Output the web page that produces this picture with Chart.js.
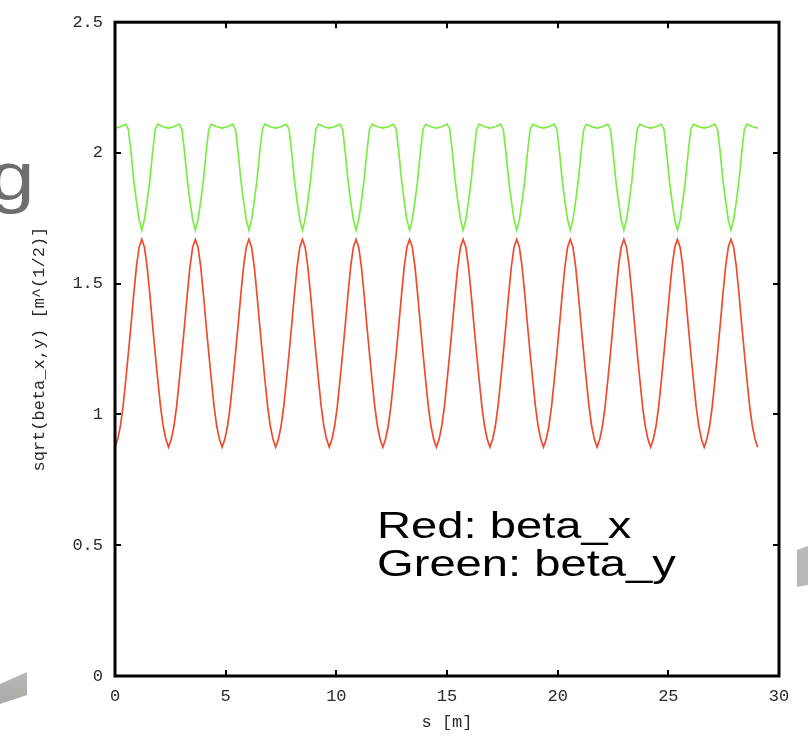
<!DOCTYPE html>
<html>
<head>
<meta charset="utf-8">
<script src="https://cdn.jsdelivr.net/npm/chart.js@4.4.1/dist/chart.umd.min.js"></script>
<style>
  html, body { margin: 0; padding: 0; background: #ffffff; }
  #wrap { width: 808px; height: 740px; }
</style>
</head>
<body>
<div id="wrap"><canvas id="c" width="808" height="740"></canvas></div>
<script>
// ---- data ----
const sPositions = [
  0,0.121,0.242,0.363,0.484,0.605,0.726,0.847,0.968,1.089,1.21,1.331,1.452,1.573,1.694,1.815,1.936,2.057,2.178,2.299,
  2.42,2.541,2.662,2.783,2.904,3.025,3.146,3.267,3.388,3.509,3.63,3.751,3.872,3.993,4.114,4.235,4.356,4.477,4.598,4.719,
  4.84,4.961,5.082,5.203,5.324,5.445,5.566,5.687,5.808,5.929,6.05,6.171,6.292,6.413,6.534,6.655,6.776,6.897,7.018,7.139,
  7.26,7.381,7.502,7.623,7.744,7.865,7.986,8.107,8.228,8.349,8.47,8.591,8.712,8.833,8.954,9.075,9.196,9.317,9.438,9.559,
  9.68,9.801,9.922,10.043,10.164,10.285,10.406,10.527,10.648,10.769,10.89,11.011,11.132,11.253,11.374,11.495,11.616,11.737,11.858,11.979,
  12.1,12.221,12.342,12.463,12.584,12.705,12.826,12.947,13.068,13.189,13.31,13.431,13.552,13.673,13.794,13.915,14.036,14.157,14.278,14.399,
  14.52,14.641,14.762,14.883,15.004,15.125,15.246,15.367,15.488,15.609,15.73,15.851,15.972,16.093,16.214,16.335,16.456,16.577,16.698,16.819,
  16.94,17.061,17.182,17.303,17.424,17.545,17.666,17.787,17.908,18.029,18.15,18.271,18.392,18.513,18.634,18.755,18.876,18.997,19.118,19.239,
  19.36,19.481,19.602,19.723,19.844,19.965,20.086,20.207,20.328,20.449,20.57,20.691,20.812,20.933,21.054,21.175,21.296,21.417,21.538,21.659,
  21.78,21.901,22.022,22.143,22.264,22.385,22.506,22.627,22.748,22.869,22.99,23.111,23.232,23.353,23.474,23.595,23.716,23.837,23.958,24.079,
  24.2,24.321,24.442,24.563,24.684,24.805,24.926,25.047,25.168,25.289,25.41,25.531,25.652,25.773,25.894,26.015,26.136,26.257,26.378,26.499,
  26.62,26.741,26.862,26.983,27.104,27.225,27.346,27.467,27.588,27.709,27.83,27.951,28.072,28.193,28.314,28.435,28.556,28.677,28.798,28.919,
  29.04
];
const sqrtBetaX = [
  0.875,0.905,0.955,1.03,1.13,1.235,1.345,1.46,1.565,1.64,1.67,1.64,1.565,1.46,1.345,1.235,1.13,1.03,0.955,0.905,
  0.875,0.905,0.955,1.03,1.13,1.235,1.345,1.46,1.565,1.64,1.67,1.64,1.565,1.46,1.345,1.235,1.13,1.03,0.955,0.905,
  0.875,0.905,0.955,1.03,1.13,1.235,1.345,1.46,1.565,1.64,1.67,1.64,1.565,1.46,1.345,1.235,1.13,1.03,0.955,0.905,
  0.875,0.905,0.955,1.03,1.13,1.235,1.345,1.46,1.565,1.64,1.67,1.64,1.565,1.46,1.345,1.235,1.13,1.03,0.955,0.905,
  0.875,0.905,0.955,1.03,1.13,1.235,1.345,1.46,1.565,1.64,1.67,1.64,1.565,1.46,1.345,1.235,1.13,1.03,0.955,0.905,
  0.875,0.905,0.955,1.03,1.13,1.235,1.345,1.46,1.565,1.64,1.67,1.64,1.565,1.46,1.345,1.235,1.13,1.03,0.955,0.905,
  0.875,0.905,0.955,1.03,1.13,1.235,1.345,1.46,1.565,1.64,1.67,1.64,1.565,1.46,1.345,1.235,1.13,1.03,0.955,0.905,
  0.875,0.905,0.955,1.03,1.13,1.235,1.345,1.46,1.565,1.64,1.67,1.64,1.565,1.46,1.345,1.235,1.13,1.03,0.955,0.905,
  0.875,0.905,0.955,1.03,1.13,1.235,1.345,1.46,1.565,1.64,1.67,1.64,1.565,1.46,1.345,1.235,1.13,1.03,0.955,0.905,
  0.875,0.905,0.955,1.03,1.13,1.235,1.345,1.46,1.565,1.64,1.67,1.64,1.565,1.46,1.345,1.235,1.13,1.03,0.955,0.905,
  0.875,0.905,0.955,1.03,1.13,1.235,1.345,1.46,1.565,1.64,1.67,1.64,1.565,1.46,1.345,1.235,1.13,1.03,0.955,0.905,
  0.875,0.905,0.955,1.03,1.13,1.235,1.345,1.46,1.565,1.64,1.67,1.64,1.565,1.46,1.345,1.235,1.13,1.03,0.955,0.905,
  0.875
];
const sqrtBetaY = [
  2.095,2.098,2.1,2.105,2.11,2.09,2.0,1.895,1.815,1.745,1.705,1.745,1.815,1.895,2.0,2.09,2.11,2.105,2.1,2.098,
  2.095,2.098,2.1,2.105,2.11,2.09,2.0,1.895,1.815,1.745,1.705,1.745,1.815,1.895,2.0,2.09,2.11,2.105,2.1,2.098,
  2.095,2.098,2.1,2.105,2.11,2.09,2.0,1.895,1.815,1.745,1.705,1.745,1.815,1.895,2.0,2.09,2.11,2.105,2.1,2.098,
  2.095,2.098,2.1,2.105,2.11,2.09,2.0,1.895,1.815,1.745,1.705,1.745,1.815,1.895,2.0,2.09,2.11,2.105,2.1,2.098,
  2.095,2.098,2.1,2.105,2.11,2.09,2.0,1.895,1.815,1.745,1.705,1.745,1.815,1.895,2.0,2.09,2.11,2.105,2.1,2.098,
  2.095,2.098,2.1,2.105,2.11,2.09,2.0,1.895,1.815,1.745,1.705,1.745,1.815,1.895,2.0,2.09,2.11,2.105,2.1,2.098,
  2.095,2.098,2.1,2.105,2.11,2.09,2.0,1.895,1.815,1.745,1.705,1.745,1.815,1.895,2.0,2.09,2.11,2.105,2.1,2.098,
  2.095,2.098,2.1,2.105,2.11,2.09,2.0,1.895,1.815,1.745,1.705,1.745,1.815,1.895,2.0,2.09,2.11,2.105,2.1,2.098,
  2.095,2.098,2.1,2.105,2.11,2.09,2.0,1.895,1.815,1.745,1.705,1.745,1.815,1.895,2.0,2.09,2.11,2.105,2.1,2.098,
  2.095,2.098,2.1,2.105,2.11,2.09,2.0,1.895,1.815,1.745,1.705,1.745,1.815,1.895,2.0,2.09,2.11,2.105,2.1,2.098,
  2.095,2.098,2.1,2.105,2.11,2.09,2.0,1.895,1.815,1.745,1.705,1.745,1.815,1.895,2.0,2.09,2.11,2.105,2.1,2.098,
  2.095,2.098,2.1,2.105,2.11,2.09,2.0,1.895,1.815,1.745,1.705,1.745,1.815,1.895,2.0,2.09,2.11,2.105,2.1,2.098,
  2.095
];
const xAxisTitle = 's [m]';
const yAxisTitle = 'sqrt(beta_x,y) [m^(1/2)]';
const noteLines = ['Red: beta_x', 'Green: beta_y'];
const xRange = [0, 30];
const yRange = [0, 2.5];
const xStep = 5;
const yStep = 0.5;

// ---- styling ----
const MONO = "'Liberation Mono', 'DejaVu Sans Mono', monospace";
const SANS = "'Liberation Sans', Arial, sans-serif";
const fmt = v => String(parseFloat(Number(v).toFixed(2)));

const framePlugin = {
  id: 'gnuplotFrame',
  afterDatasetsDraw(chart) {
    const { ctx, chartArea: a, scales } = chart;
    ctx.save();
    ctx.strokeStyle = '#000';
    ctx.lineCap = 'butt';
    ctx.lineWidth = 2;
    const tl = 6;
    scales.y.ticks.forEach(t => {
      const y = Math.round(scales.y.getPixelForValue(t.value));
      ctx.beginPath();
      ctx.moveTo(a.left, y); ctx.lineTo(a.left + tl, y);
      ctx.moveTo(a.right, y); ctx.lineTo(a.right - tl, y);
      ctx.stroke();
    });
    scales.x.ticks.forEach(t => {
      const x = Math.round(scales.x.getPixelForValue(t.value));
      ctx.beginPath();
      ctx.moveTo(x, a.bottom); ctx.lineTo(x, a.bottom - tl);
      ctx.moveTo(x, a.top); ctx.lineTo(x, a.top + tl);
      ctx.stroke();
    });
    ctx.lineWidth = 3;
    ctx.strokeRect(a.left, a.top, a.right - a.left, a.bottom - a.top);
    ctx.restore();
  }
};

const slidePlugin = {
  id: 'slideDecor',
  beforeDraw(chart) {
    const ctx = chart.ctx;
    ctx.save();
    ctx.fillStyle = '#fff';
    ctx.fillRect(0, 0, chart.width, chart.height);
    ctx.fillStyle = '#6e6e6e';
    ctx.font = '68px ' + SANS;
    ctx.textBaseline = 'alphabetic';
    const m = ctx.measureText('g');
    const sx = 1.2;
    ctx.translate(30 - m.actualBoundingBoxRight * sx, 163 + m.actualBoundingBoxAscent);
    ctx.scale(sx, 1);
    ctx.fillText('g', 0, 0);
    ctx.restore();
    ctx.save();
    const g1 = ctx.createLinearGradient(0, 664, 0, 706);
    g1.addColorStop(0, '#e4e5e3');
    g1.addColorStop(0.25, '#b6b8b4');
    g1.addColorStop(1, '#a7a9a5');
    ctx.fillStyle = g1;
    ctx.beginPath();
    ctx.moveTo(0, 684); ctx.lineTo(27, 672); ctx.lineTo(27, 695); ctx.lineTo(0, 704);
    ctx.closePath(); ctx.fill();
    ctx.fillStyle = '#b9b9b7';
    ctx.beginPath();
    ctx.moveTo(797, 550); ctx.lineTo(808, 546); ctx.lineTo(808, 585); ctx.lineTo(797, 587);
    ctx.closePath(); ctx.fill();
    ctx.restore();
  },
  afterDraw(chart) {
    const ctx = chart.ctx;
    ctx.save();
    ctx.fillStyle = '#000';
    ctx.font = '36px ' + SANS;
    ctx.textBaseline = 'alphabetic';
    const sx = 1.31;
    ctx.translate(377, 0);
    ctx.scale(sx, 1);
    ctx.fillText(noteLines[0], 0, 538);
    ctx.fillText(noteLines[1], 0, 576);
    ctx.restore();
  }
};

const ctx = document.getElementById('c').getContext('2d');
new Chart(ctx, {
  type: 'line',
  data: {
    datasets: [
      {
        label: 'beta_y',
        data: sPositions.map((s, i) => ({ x: s, y: sqrtBetaY[i] })),
        borderColor: '#7cec44',
        borderWidth: 1.7,
        pointRadius: 0,
        tension: 0,
        fill: false
      },
      {
        label: 'beta_x',
        data: sPositions.map((s, i) => ({ x: s, y: sqrtBetaX[i] })),
        borderColor: '#f04a2c',
        borderWidth: 1.7,
        pointRadius: 0,
        tension: 0,
        fill: false
      }
    ]
  },
  options: {
    responsive: false,
    animation: false,
    events: [],
    layout: { padding: { left: 0, right: 29, top: 20, bottom: 0 } },
    plugins: { legend: { display: false }, tooltip: { enabled: false } },
    scales: {
      x: {
        type: 'linear',
        min: xRange[0], max: xRange[1],
        grid: { display: false, drawTicks: false },
        border: { display: false },
        ticks: {
          stepSize: xStep, maxRotation: 0, autoSkip: false,
          padding: 10, color: '#2a2a2a',
          font: { family: MONO, size: 17 },
          callback: fmt
        },
        title: {
          display: true, text: xAxisTitle, color: '#2a2a2a',
          font: { family: MONO, size: 17 },
          padding: { top: 0, bottom: 7 }
        },
        afterFit(scale) { scale.height = 64; }
      },
      y: {
        type: 'linear',
        min: yRange[0], max: yRange[1],
        grid: { display: false, drawTicks: false },
        border: { display: false },
        ticks: {
          stepSize: yStep, autoSkip: false,
          padding: 12, color: '#2a2a2a',
          font: { family: MONO, size: 17 },
          callback: fmt
        },
        title: {
          display: true, text: yAxisTitle, color: '#2a2a2a',
          font: { family: MONO, size: 17 },
          padding: { top: 29, bottom: 0 }
        },
        afterFit(scale) { scale.width = 115; }
      }
    }
  },
  plugins: [slidePlugin, framePlugin]
});
</script>
</body>
</html>
